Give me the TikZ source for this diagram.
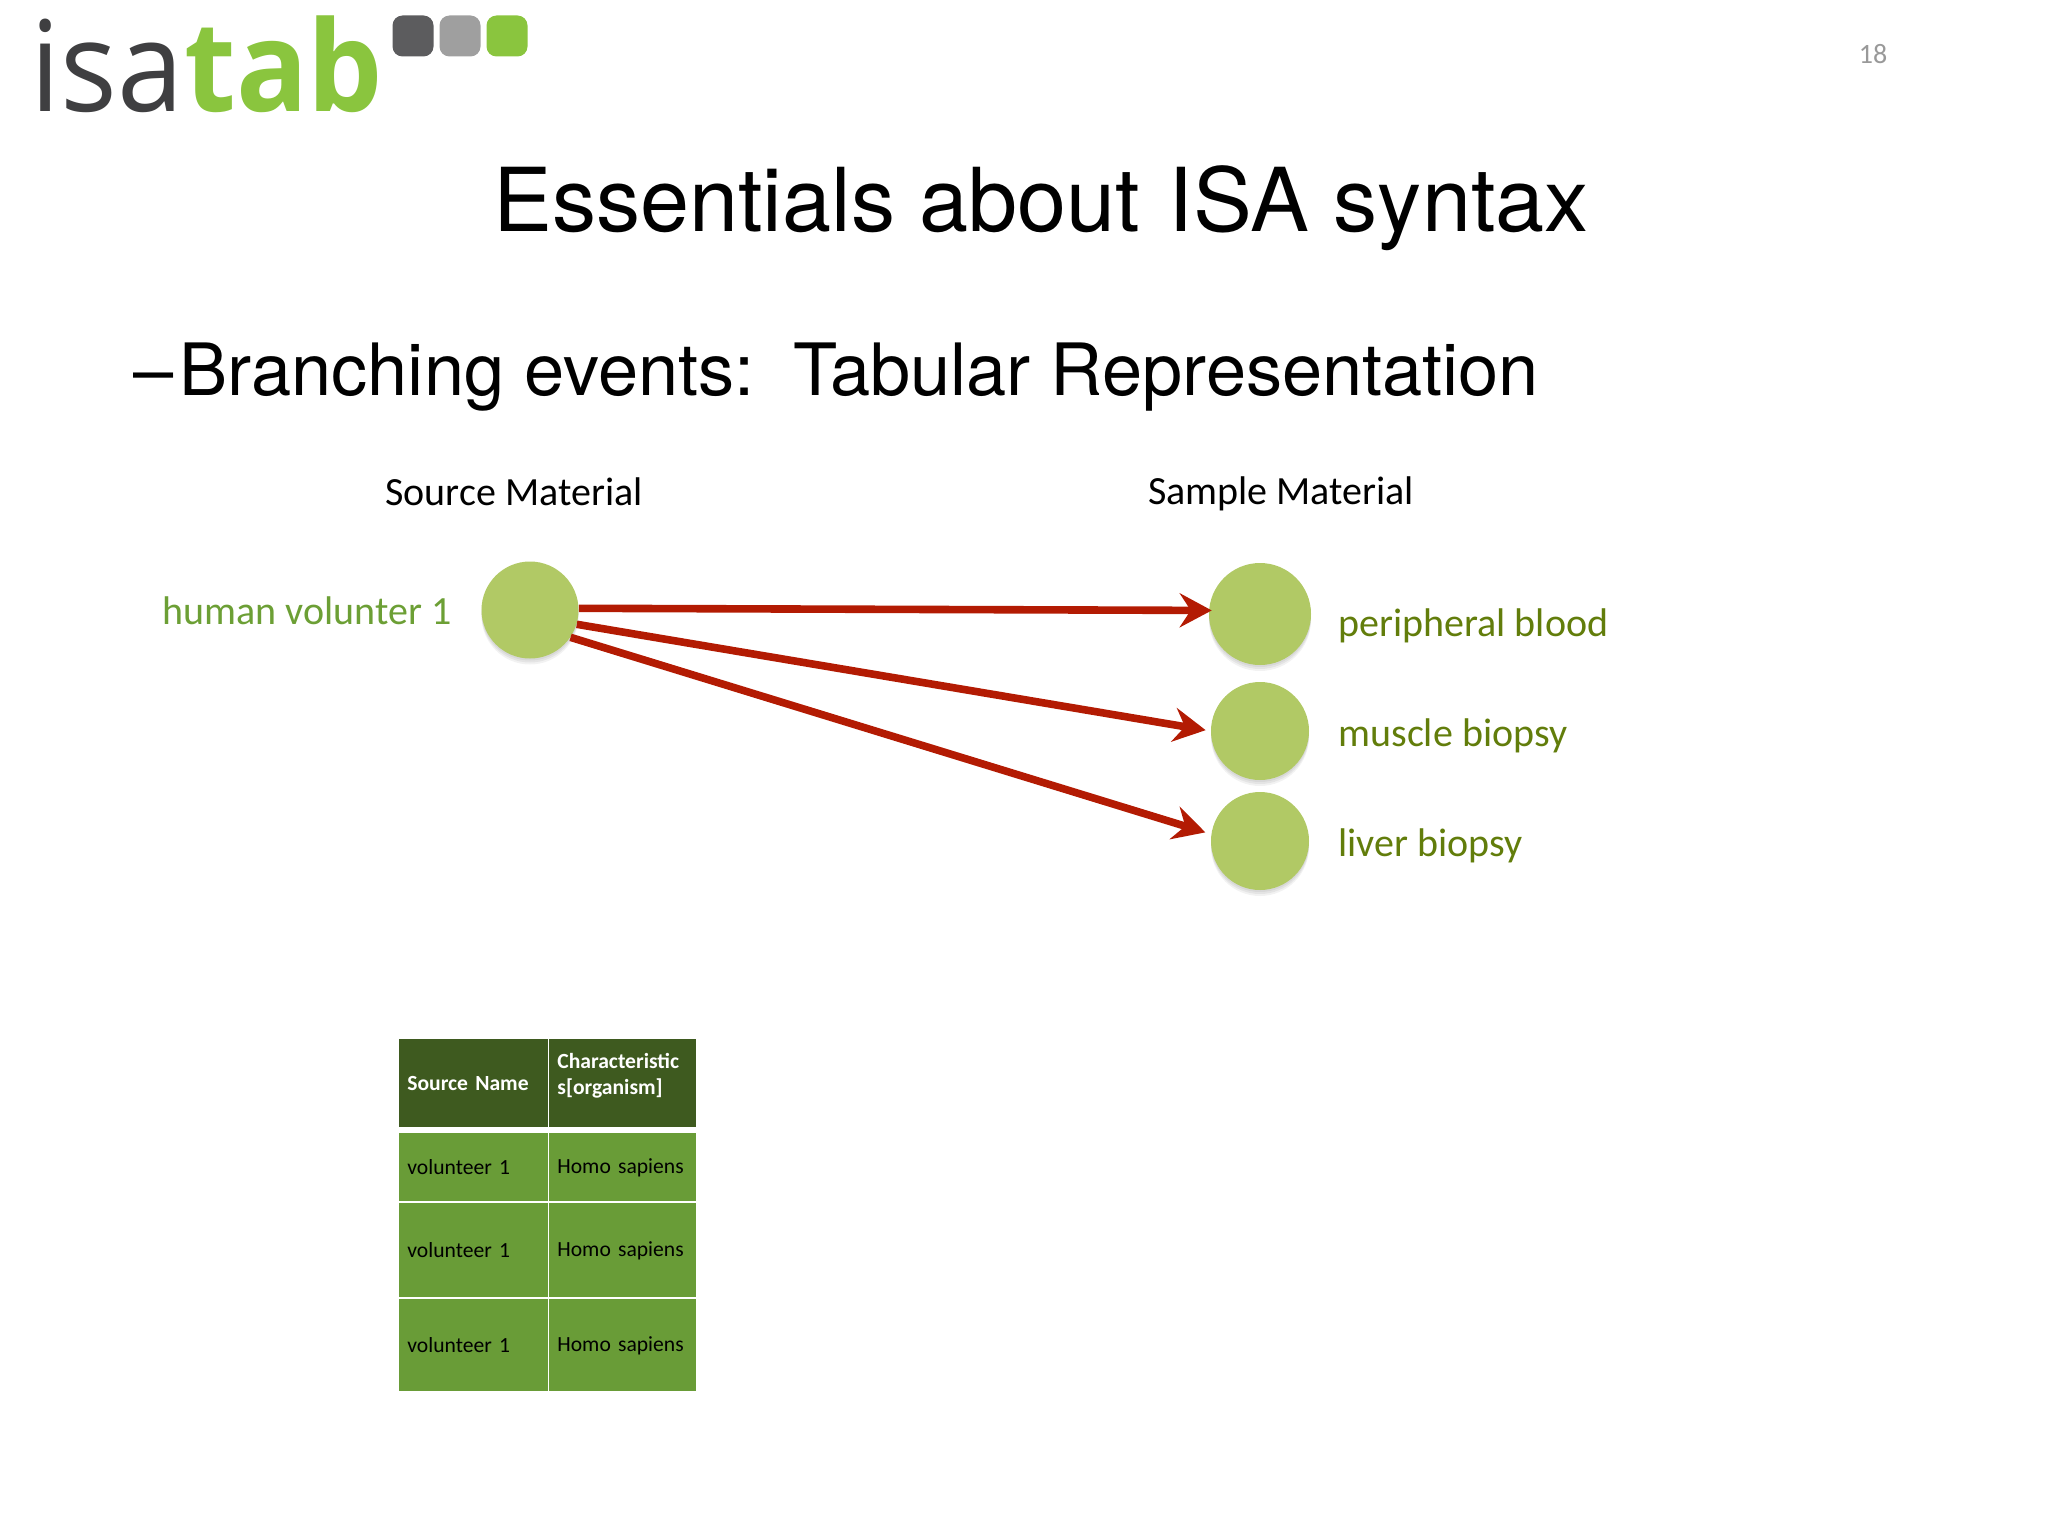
\documentclass[tikz,border=0pt]{standalone}
\usepackage{fontspec}
\setmainfont{TeX Gyre Heros}
\newfontfamily\bodyfont{Carlito}
\newfontfamily\logofont[FakeStretch=0.945]{Open Sans}
\usepackage{tikz}
\usetikzlibrary{arrows.meta,shadows}

\definecolor{logogrey}{HTML}{3F3F41}
\definecolor{logogreen}{HTML}{8AC53E}
\definecolor{blobgreen}{HTML}{B1C965}
\definecolor{arrowred}{HTML}{B31B03}
\definecolor{sourcegreen}{HTML}{6C9F35}
\definecolor{samplegreen}{HTML}{627D0B}
\definecolor{cellgreen}{HTML}{699C37}
\definecolor{headgreen}{HTML}{3E5A1F}

\begin{document}
\begin{tikzpicture}[x=0.5pt,y=-0.5pt]
            \useasboundingbox (0,0) rectangle (2048,1536);

            % Logo:
            \begin{scope}[tile/.style={rounded corners=5pt,minimum size=20.5pt,inner sep=0pt}]
            \node (logoleft) at (30,112) [anchor=base west,inner sep=0pt,text=logogrey,font=\logofont\fontsize{63}{63}\selectfont] {isa};
            \node (logoright) at (logoleft.base east) [anchor=base west,inner sep=0pt,text=logogreen,font=\logofont\bfseries\fontsize{63}{63}\selectfont] {tab};
            \node (tilea) [tile,fill=logogrey!85] at (413,36) {};
            \node (tileb) [tile,fill=gray!75] at (460,36) {};
            \node (tilec) [tile,fill=logogreen] at (507,36) {};
            \end{scope}

            % Page number and headings:
            \node (pagenum) at (1873,54) [text=gray!80,font=\bodyfont\fontsize{14}{14}\selectfont] {18};
            \node (title) at (1041,208) [font=\fontsize{44.1}{44.1}\selectfont] {Essentials about\hspace{2pt} ISA syntax};
            \node (subtitle) at (133,377) [anchor=west,inner sep=0pt,font=\fontsize{36.1}{36.1}\selectfont] {--\hspace{3pt}Branching events:\, Tabular Representation};

            % Material columns:
            \begin{scope}[font=\bodyfont\fontsize{20}{20}\selectfont,
                blob/.style={circle,fill=blobgreen,inner sep=0pt,minimum size=#1,
                    drop shadow={opacity=0.12,shadow xshift=0pt,shadow yshift=-1pt},
                    drop shadow={opacity=0.12,shadow xshift=0pt,shadow yshift=-2pt},
                    drop shadow={opacity=0.1,shadow xshift=0pt,shadow yshift=-3pt}},
                link/.style={arrowred,line width=3.8pt,-{Stealth[length=16pt,width=17pt,inset=5.5pt]}}]
            \node (sourcehead) at (514,492) {Source Material};
            \node (samplehead) at (1281,494) {Sample Material};

            \node (volunteer) at (162,611) [anchor=west,inner sep=0pt,text=sourcegreen] {human volunter 1};
            \node (blood) at (1338,626) [anchor=west,inner sep=0pt,text=samplegreen] {peripheral blood};
            \node (muscle) at (1338,736) [anchor=west,inner sep=0pt,text=samplegreen] {muscle biopsy};
            \node (liver) at (1338,846) [anchor=west,inner sep=0pt,text=samplegreen] {liver biopsy};

            % Circles:
            \node (src) [blob=48.5pt] at (530,610) {};
            \node (bloodblob) [blob=51pt] at (1260,614) {};
            \node (muscleblob) [blob=49pt] at (1260,731) {};
            \node (liverblob) [blob=49pt] at (1260,841) {};

            % Branches:
            \draw [link,shorten >=-1.5pt] (src.2) -- (bloodblob.176);
            \draw [link,shorten >=2.5pt] (src.-17) -- (muscleblob.west);
            \draw [link,shorten >=3pt] (src.-34) -- (liverblob.172);
            \end{scope}

            % Table:
            \begin{scope}[font=\bodyfont\fontsize{10.8}{13}\selectfont,
                cell/.style args={#1,#2}{anchor=north west,minimum width=#1,minimum height=#2,
                    text width=#1-8pt,inner xsep=4pt,inner ysep=0pt,align=left,fill=cellgreen},
                head/.style={fill=headgreen,text=white,font=\bodyfont\bfseries\fontsize{10.8}{13}\selectfont}]
            \node (srchead) [cell={74.5pt,44pt},head] at (399,1039) {Source Name};
            \node (orghead) [cell={73.5pt,44pt},head] at (549,1039) {Characteristic\\s[organism]\\[-3.5pt]~};
            \node (srca) [cell={74.5pt,34pt}] at (399,1133) {volunteer 1};
            \node (orga) [cell={73.5pt,34pt}] at (549,1133) {Homo sapiens};
            \node (srcb) [cell={74.5pt,47pt}] at (399,1203) {volunteer 1};
            \node (orgb) [cell={73.5pt,47pt}] at (549,1203) {Homo sapiens};
            \node (srcc) [cell={74.5pt,46pt}] at (399,1299) {volunteer 1};
            \node (orgc) [cell={73.5pt,46pt}] at (549,1299) {Homo sapiens};
            \end{scope}
\end{tikzpicture}
\end{document}
